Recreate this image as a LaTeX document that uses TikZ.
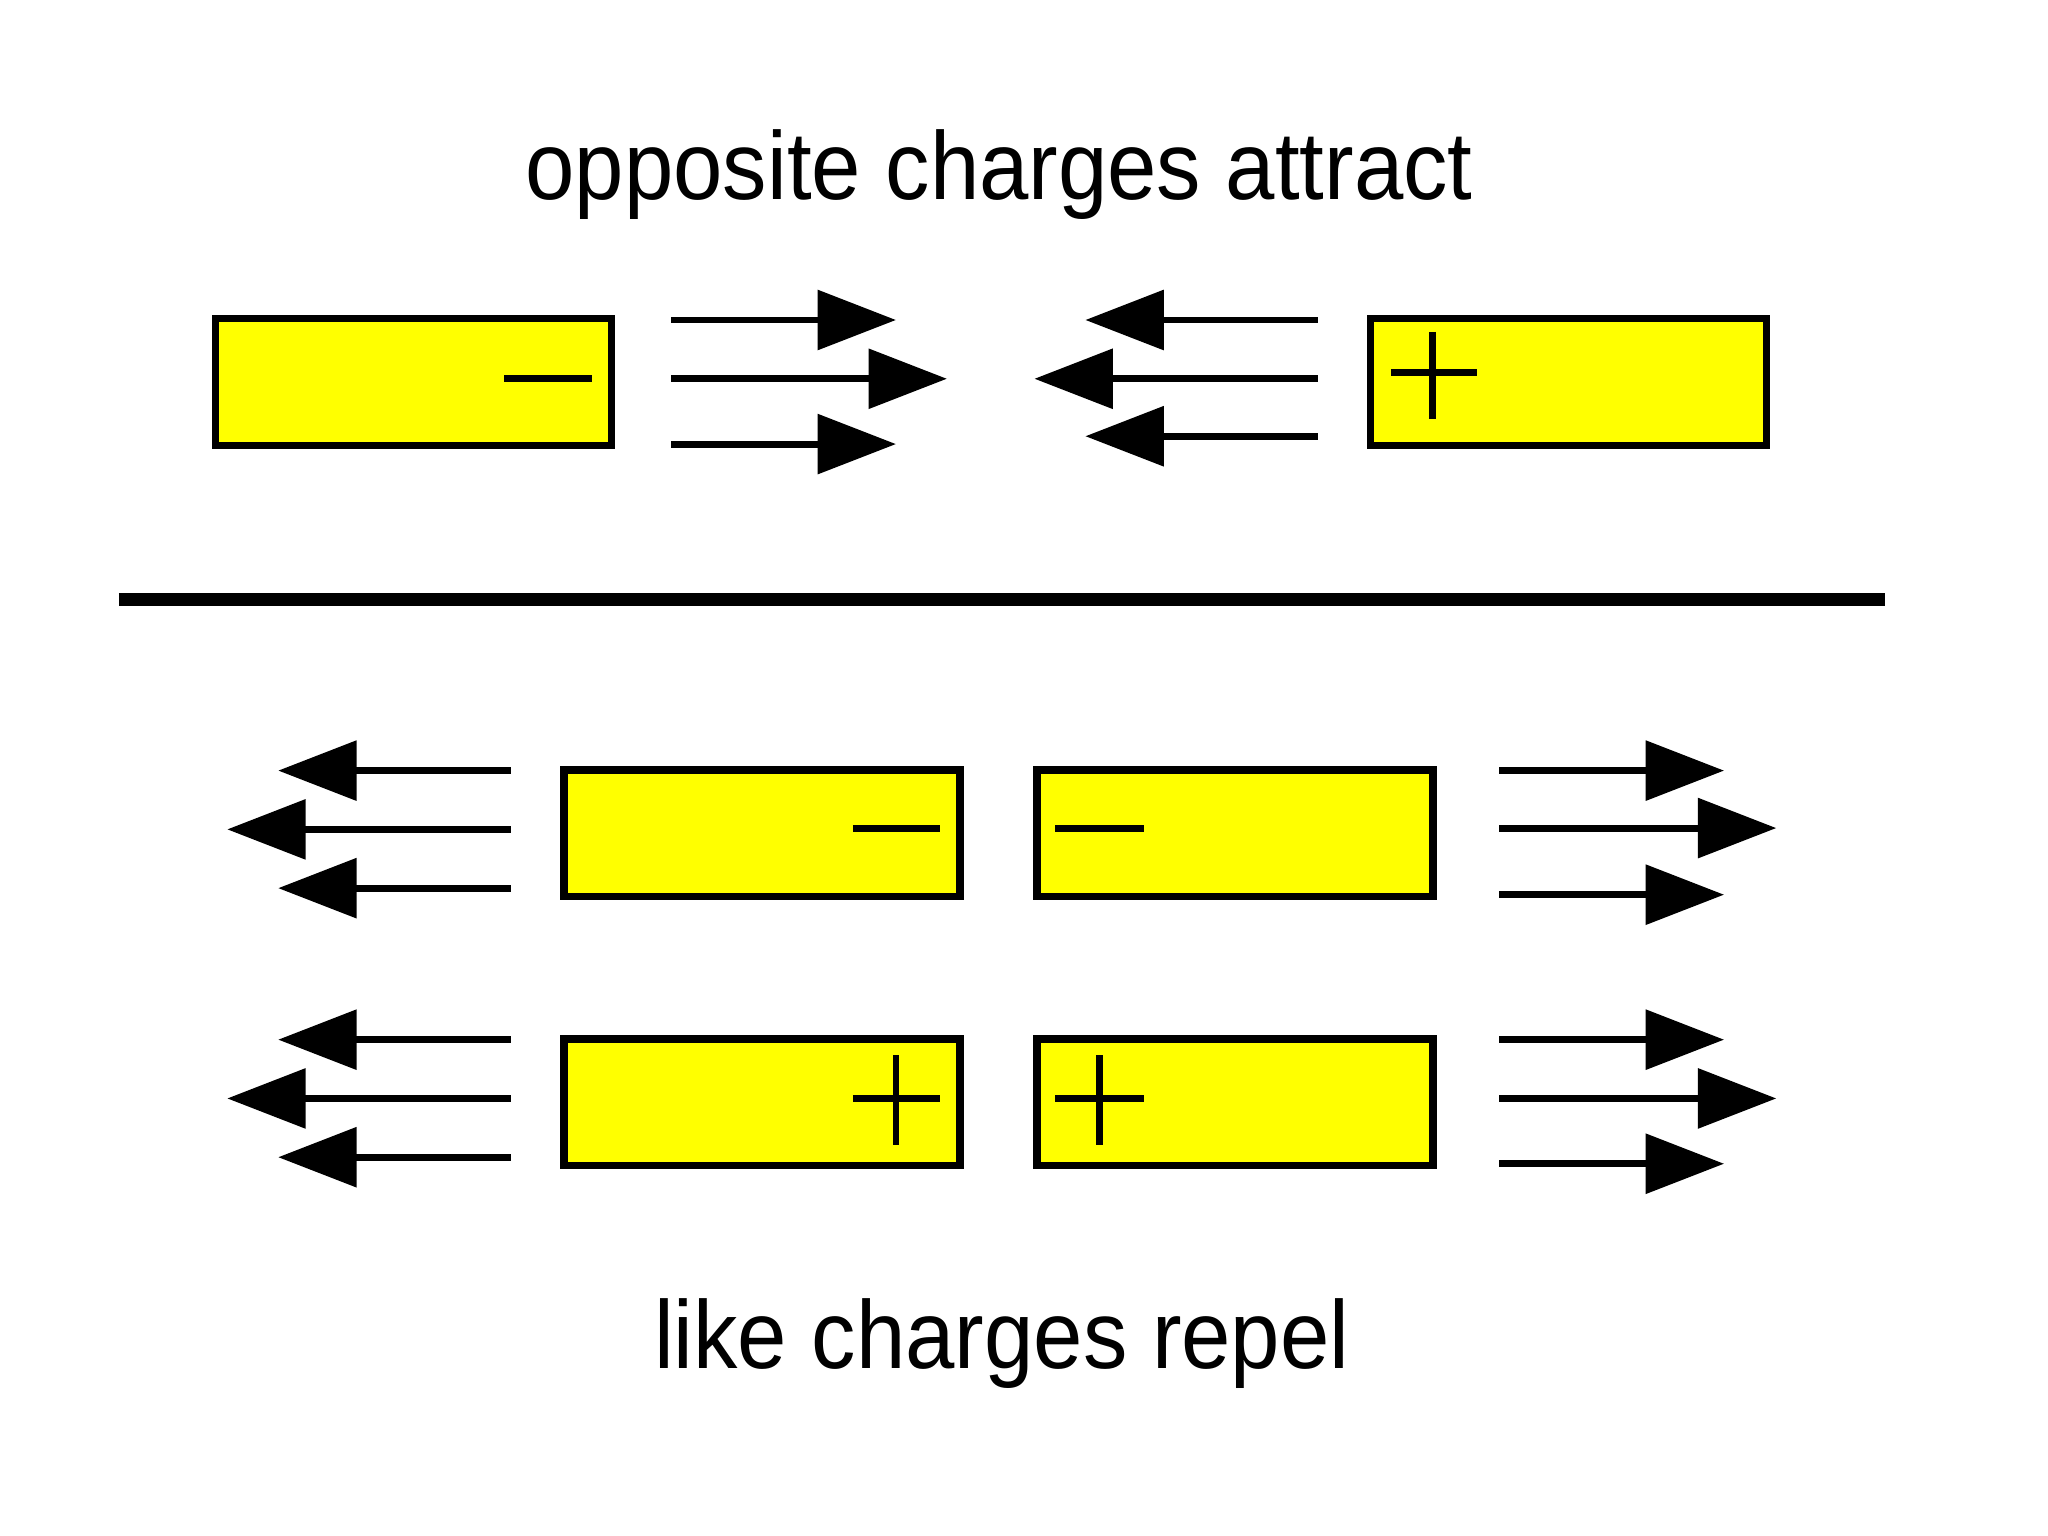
\documentclass[tikz,border=0pt]{standalone}
\usepackage{fontspec}
\setmainfont{Liberation Sans}
\usetikzlibrary{arrows.meta}
\definecolor{plateyellow}{RGB}{255,255,0}
\begin{document}
\begin{tikzpicture}[x=0.01cm,y=-0.01cm,
  bar/.style={draw=black,line width=1.6pt,fill=plateyellow,minimum width=3.03cm,minimum height=0.97cm,inner sep=0pt,outer sep=0pt},
  force/.style={line width=1.5pt,-{Triangle[length=0.6cm,width=0.45cm]}},
  sign/.style={line width=1.5pt},
  caption/.style={font=\fontsize{21}{25}\selectfont,anchor=base,xscale=0.92,inner sep=0pt}]
\useasboundingbox[fill=white] (0,0) rectangle (1568,1176);
% captions
\node[caption] (title) at (765,153) {opposite charges attract};
\node[caption] (bottom) at (767,1048) {like charges repel};
% top row
\node[bar] (neg) at (316.5,292.5) {};
\node[bar] (pos) at (1201,292.5) {};
\draw[sign] (386,290) -- (453,290);
\draw[sign] (1065,285) -- (1131,285) (1097,254) -- (1097,321);
% top arrows
\coordinate (a1s) at (514,245); \coordinate (a1e) at (686,245);
\coordinate (a2s) at (514,290); \coordinate (a2e) at (725,290);
\coordinate (a3s) at (514,340); \coordinate (a3e) at (686,340);
\coordinate (b1s) at (1009,245); \coordinate (b1e) at (831,245);
\coordinate (b2s) at (1009,290); \coordinate (b2e) at (792,290);
\coordinate (b3s) at (1009,334); \coordinate (b3e) at (831,334);
\draw[force] (a1s) -- (a1e);
\draw[force] (a2s) -- (a2e);
\draw[force] (a3s) -- (a3e);
\draw[force] (b1s) -- (b1e);
\draw[force] (b2s) -- (b2e);
\draw[force] (b3s) -- (b3e);
% separator
\coordinate (sepL) at (91,459); \coordinate (sepR) at (1443,459);
\draw[line width=2.9pt] (sepL) -- (sepR);
% lower boxes
\node[bar] (nA) at (583.5,638) {};
\node[bar] (nB) at (945.5,638) {};
\node[bar] (pA) at (583.5,844) {};
\node[bar] (pB) at (945.5,844) {};
\draw[sign] (653,634) -- (720,634);
\draw[sign] (808,634) -- (876,634);
\draw[sign] (653,841) -- (720,841) (686,808) -- (686,877);
\draw[sign] (808,841) -- (876,841) (842,808) -- (842,877);
% lower arrows, minus row
\coordinate (c1s) at (391,590); \coordinate (c1e) at (213,590);
\coordinate (c2s) at (391,635); \coordinate (c2e) at (174,635);
\coordinate (c3s) at (391,680); \coordinate (c3e) at (213,680);
\coordinate (d1s) at (1148,590); \coordinate (d1e) at (1320,590);
\coordinate (d2s) at (1148,634); \coordinate (d2e) at (1360,634);
\coordinate (d3s) at (1148,685); \coordinate (d3e) at (1320,685);
\draw[force] (c1s) -- (c1e);
\draw[force] (c2s) -- (c2e);
\draw[force] (c3s) -- (c3e);
\draw[force] (d1s) -- (d1e);
\draw[force] (d2s) -- (d2e);
\draw[force] (d3s) -- (d3e);
% lower arrows, plus row
\coordinate (e1s) at (391,796); \coordinate (e1e) at (213,796);
\coordinate (e2s) at (391,841); \coordinate (e2e) at (174,841);
\coordinate (e3s) at (391,886); \coordinate (e3e) at (213,886);
\coordinate (f1s) at (1148,796); \coordinate (f1e) at (1320,796);
\coordinate (f2s) at (1148,841); \coordinate (f2e) at (1360,841);
\coordinate (f3s) at (1148,891); \coordinate (f3e) at (1320,891);
\draw[force] (e1s) -- (e1e);
\draw[force] (e2s) -- (e2e);
\draw[force] (e3s) -- (e3e);
\draw[force] (f1s) -- (f1e);
\draw[force] (f2s) -- (f2e);
\draw[force] (f3s) -- (f3e);
\end{tikzpicture}
\end{document}
